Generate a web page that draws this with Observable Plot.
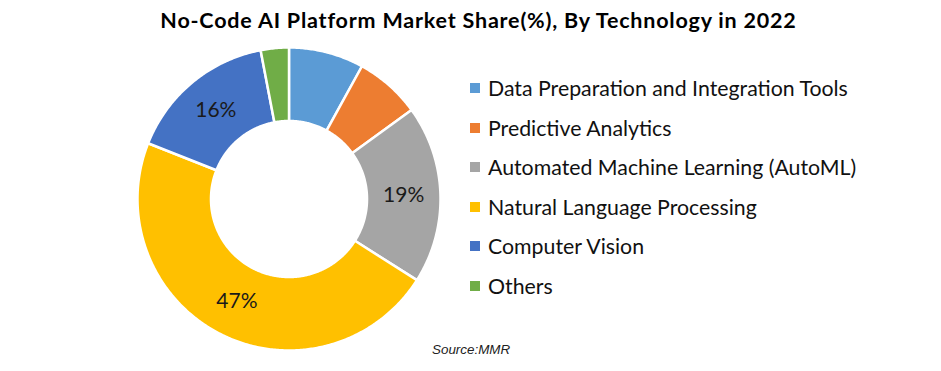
<!DOCTYPE html>
<html><head><meta charset="utf-8">
<script src="https://cdn.jsdelivr.net/npm/d3@7"></script>
<script src="https://cdn.jsdelivr.net/npm/@observablehq/plot@0.6"></script>
<style>
body{margin:0;background:#fff;}
#wrap{position:relative;width:941px;height:371px;overflow:hidden;font-family:Lato,"Open Sans",sans-serif;background:#fff;}
#title{height:40px;line-height:40px;text-align:center;font-weight:bold;font-size:21.5px;letter-spacing:0.8px;color:#000;white-space:nowrap;padding-left:16px;}
#chart svg{display:block;}
.row{position:absolute;left:470px;height:26px;display:flex;align-items:center;font-size:21.3px;color:#111;white-space:nowrap;}
.sw{width:10px;height:10px;margin-right:8px;flex:none;}
#source{position:absolute;left:432px;top:342px;font-family:"Liberation Sans",Arial,sans-serif;font-style:italic;font-size:13.4px;color:#222;}
</style></head><body>
<div id="wrap">
<div id="title">No-Code AI Platform Market Share(%), By Technology in 2022</div>
<div id="chart"></div>
<div id="legend"></div>
<div id="source">Source:MMR</div>
</div>
<script>
const categories = ["Data Preparation and Integration Tools","Predictive Analytics","Automated Machine Learning (AutoML)","Natural Language Processing","Computer Vision","Others"];
const shares = [8, 7, 19, 47, 16, 3];
const sliceLabels = ["", "", "19%", "47%", "16%", ""];
const colors = ["#5B9BD5","#ED7D31","#A5A5A5","#FFC000","#4472C4","#70AD47"];

const data = categories.map((name, i) => ({name, share: shares[i], label: sliceLabels[i]}));
const arcs = d3.pie().sort(null).value(d => d.share)(data);
const R = 1, r0 = 0.515;
const pts = [];
const labelData = [];
arcs.forEach(p => {
  const a0 = p.startAngle, a1 = p.endAngle;
  const n = Math.max(2, Math.ceil((a1 - a0) / 0.01));
  for (let i = 0; i <= n; i++) { const a = a0 + (a1 - a0) * i / n; pts.push({name: p.data.name, x: R * Math.sin(a), y: R * Math.cos(a)}); }
  for (let i = n; i >= 0; i--) { const a = a0 + (a1 - a0) * i / n; pts.push({name: p.data.name, x: r0 * Math.sin(a), y: r0 * Math.cos(a)}); }
  const am = (a0 + a1) / 2, rm = (R + r0) / 2;
  if (p.data.label) labelData.push({label: p.data.label, x: rm * Math.sin(am), y: rm * Math.cos(am)});
});

const chart = Plot.plot({
  width: 941, height: 331,
  marginLeft: 137, marginRight: 501, marginTop: 7, marginBottom: 21,
  x: {domain: [-1, 1], axis: null},
  y: {domain: [-1, 1], axis: null},
  color: {domain: categories, range: colors},
  style: {fontFamily: "Lato, sans-serif", background: "white"},
  marks: [
    Plot.line(pts, {x: "x", y: "y", z: "name", fill: "name", stroke: "white", strokeWidth: 2.5, strokeLinejoin: "round", curve: "linear-closed"}),
    Plot.text(labelData, {x: "x", y: "y", text: "label", fontSize: 21, fill: "#1a1a1a"})
  ]
});
document.getElementById("chart").appendChild(chart);

const legend = document.getElementById("legend");
categories.forEach((c, i) => {
  const row = document.createElement("div");
  row.className = "row";
  row.style.top = (88 + i * 39.5 - 13) + "px";
  const sw = document.createElement("div");
  sw.className = "sw";
  sw.style.background = colors[i];
  const t = document.createElement("span");
  t.textContent = c;
  row.appendChild(sw); row.appendChild(t);
  legend.appendChild(row);
});
</script>
</body></html>
